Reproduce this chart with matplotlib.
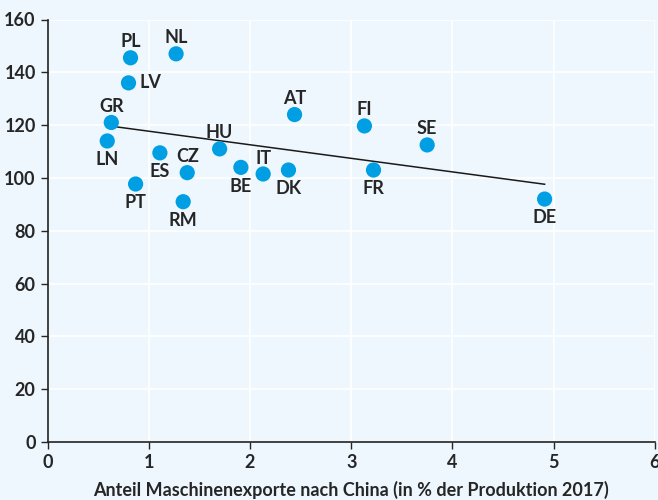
import numpy as np
import matplotlib.pyplot as plt

plt.rcParams['font.family'] = ['Lato', 'DejaVu Sans']

# country codes, machine export share to China (% of production 2017), index
countries = ['PL', 'NL', 'LV', 'GR', 'LN', 'ES', 'CZ', 'PT', 'RM', 'HU',
             'BE', 'IT', 'DK', 'AT', 'FI', 'FR', 'SE', 'DE']
export_share = [0.82, 1.27, 0.80, 0.63, 0.59, 1.11, 1.38, 0.87, 1.34, 1.70,
                1.91, 2.13, 2.38, 2.44, 3.13, 3.22, 3.75, 4.91]
index_val = [145.5, 147, 136, 121, 114, 109.5, 102, 97.7, 91, 111,
             104, 101.5, 103, 124, 119.7, 103, 112.5, 92]
# where the label sits relative to the dot
label_pos = ['above', 'above', 'right', 'above', 'below', 'below', 'above',
             'below', 'below', 'above', 'below', 'above', 'below', 'above',
             'above', 'below', 'above', 'below']

bg = '#eef7fe'
dot = '#009fe3'
txt = '#262626'

fig = plt.figure(figsize=(6.58, 5.0), dpi=100, facecolor=bg)
ax = fig.add_axes([0.0722, 0.116, 0.9232, 0.845])
ax.set_facecolor(bg)

x = np.array(export_share)
y = np.array(index_val)

# trend line
m, b = np.polyfit(x, y, 1)
xl = np.array([x.min(), x.max()])
ax.plot(xl, m * xl + b, color='#1a1a1a', lw=1.1, zorder=2)

ax.scatter(x, y, s=120, color=dot, edgecolors='none', zorder=3)

offs = {'above': (0, 11.5, 'center'), 'below': (0, -13.5, 'center'), 'right': (8, 0, 'left')}
for c, xi, yi, p in zip(countries, x, y, label_pos):
    dx, dy, ha = offs[p]
    ax.annotate(c, (xi, yi), xytext=(dx, dy), textcoords='offset points',
                ha=ha, va='center', fontsize=13, fontweight='bold', color=txt)

ax.set_xlim(0, 6)
ax.set_ylim(0, 160)
ax.set_xticks(range(0, 7))
ax.set_yticks(range(0, 161, 20))
ax.grid(True, color='white', lw=1.2)
ax.set_axisbelow(True)

for s in ['top', 'right']:
    ax.spines[s].set_visible(False)
for s in ['left', 'bottom']:
    ax.spines[s].set_color('#222222')
    ax.spines[s].set_linewidth(1.2)

ax.tick_params(colors=txt, labelsize=13, length=5, width=1)
for lbl in ax.get_xticklabels() + ax.get_yticklabels():
    lbl.set_fontweight('bold')

ax.set_xlabel('Anteil Maschinenexporte nach China (in % der Produktion 2017)',
              fontsize=13, fontweight='bold', color=txt, labelpad=7)

fig.savefig('out.png', dpi=100, facecolor=bg)
